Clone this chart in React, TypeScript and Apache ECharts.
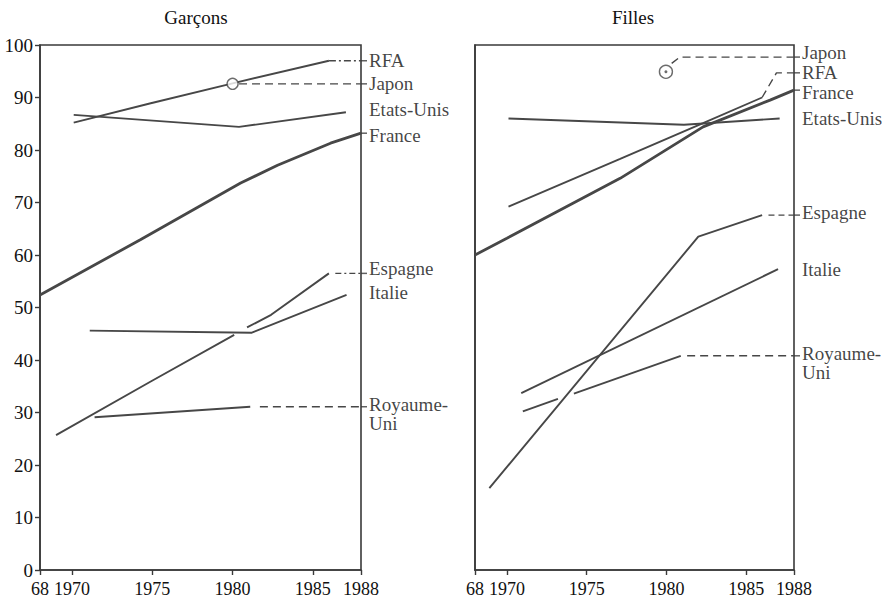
import React, { useEffect, useRef } from "react";
import * as echarts from "echarts";

// ---------- Data (years, percentage) ----------
const xTickYears = [1968, 1970, 1975, 1980, 1985, 1988];
const yTicks = [0, 10, 20, 30, 40, 50, 60, 70, 80, 90, 100];

// Garçons
const franceG = [[1968, 52.4], [1974.25, 62.9], [1980.5, 73.7], [1982.8, 77.1], [1986.1, 81.3], [1988, 83.2]];
const rfaG = [[1970.1, 85.2], [1974.9, 88.9], [1980, 92.7], [1986, 97.0]];
const rfaGExt = [[1986, 97.0], [1988, 97.0]];
const japonG = [[1980, 92.6]];
const japonGExt = [[1980.4, 92.6], [1988, 92.6]];
const usaG = [[1970.1, 86.7], [1980.4, 84.4], [1987.06, 87.2]];
const espagneGa = [[1969.0, 25.7], [1974.9, 35.9], [1980.1, 44.8]];
const espagneGb = [[1980.9, 46.2], [1982.4, 48.6], [1986.0, 56.5]];
const espagneGExt = [[1986.4, 56.5], [1988, 56.5]];
const italieG = [[1971.1, 45.6], [1981.2, 45.2], [1987.1, 52.4]];
const ukG = [[1971.4, 29.1], [1981.1, 31.1]];
const ukGExt = [[1981.7, 31.1], [1988, 31.1]];

// Filles
const franceF = [[1968, 60.0], [1970, 63.2], [1977.1, 74.6], [1982.3, 84.4], [1986.5, 89.5], [1988, 91.4]];
const rfaF = [[1970.1, 69.2], [1977.1, 78.3], [1982.3, 85.1], [1986, 90.0]];
const rfaFExt = [[1986, 90.0], [1986.9, 94.7], [1988, 94.7]];
const japonF = [[1979.97, 94.9]];
const japonFExt = [[1980.33, 96.5], [1980.85, 97.7], [1988, 97.7]];
const usaF = [[1970.1, 86.0], [1981.1, 84.8], [1987.1, 86.0]];
const espagneF = [[1968.9, 15.6], [1982.0, 63.5], [1986.0, 67.6]];
const espagneFExt = [[1986.4, 67.6], [1988, 67.6]];
const italieF = [[1970.9, 33.7], [1987.0, 57.3]];
const ukFa = [[1971.0, 30.2], [1973.2, 32.6]];
const ukFb = [[1974.2, 33.6], [1980.9, 40.8]];
const ukFExt = [[1981.3, 40.8], [1988, 40.8]];

// Right-hand labels (name, label level, level where the line meets the frame)
const labelNamesG = ["RFA", "Japon", "Etats-Unis", "France", "Espagne", "Italie", "Royaume-\nUni"];
const labelLevelsG = [97.1, 92.6, 87.8, 82.7, 57.5, 52.8, 29.8];
const labelTickG = [97.0, 92.6, null, 83.2, 56.5, null, 31.1];

const labelNamesF = ["Japon", "RFA", "France", "Etats-Unis", "Espagne", "Italie", "Royaume-\nUni"];
const labelLevelsF = [98.6, 94.8, 91.0, 86.0, 68.1, 57.3, 39.5];
const labelTickF = [97.7, 94.7, 91.4, null, 67.6, null, 40.8];

const panelTitles = ["Garçons", "Filles"];

// ---------- Styles ----------
const FONT = "Liberation Serif";
const LINE = "#474747";
const TEXT = "#111111";
const FRAME = "#3a3a3a";

function line(data: number[][], g: number, opts: any = {}) {
  return {
    type: "line",
    xAxisIndex: g,
    yAxisIndex: g,
    data,
    symbol: "none",
    silent: true,
    lineStyle: {
      color: LINE,
      width: opts.width ?? 1.9,
      type: opts.type ?? "solid",
    },
    z: opts.z ?? 3,
  };
}

function labelSeries(names: string[], levels: number[], ticks: (number | null)[], g: number) {
  return [
    {
      type: "scatter",
      xAxisIndex: g,
      yAxisIndex: g,
      silent: true,
      clip: false,
      symbolSize: 0,
      data: names.map((n, i) => ({ name: n, value: [1988, levels[i]] })),
      label: {
        show: true,
        position: "right",
        distance: 8,
        formatter: "{b}",
        fontFamily: FONT,
        fontSize: 19,
        lineHeight: 19,
        color: TEXT,
        align: "left",
      },
    },
    {
      type: "scatter",
      xAxisIndex: g,
      yAxisIndex: g,
      silent: true,
      clip: false,
      symbol: "rect",
      symbolSize: [6, 1.5],
      symbolOffset: [3, 0],
      itemStyle: { color: FRAME },
      data: ticks.filter((t) => t !== null).map((t) => [1988, t as number]),
    },
  ];
}

function xAxis(g: number) {
  return {
    type: "value",
    gridIndex: g,
    min: 1968,
    max: 1988,
    interval: 1,
    axisLine: { show: true, lineStyle: { color: FRAME, width: 1.6 } },
    axisTick: {
      show: true,
      customValues: xTickYears,
      length: 5,
      inside: false,
      lineStyle: { color: FRAME, width: 1.4 },
    },
    axisLabel: {
      customValues: xTickYears,
      formatter: (v: number) => (v === 1968 ? "68" : String(v)),
      fontFamily: FONT,
      fontSize: 18,
      color: TEXT,
      margin: 10,
    },
    splitLine: { show: false },
  };
}

function yAxis(g: number, showLabels: boolean) {
  return {
    type: "value",
    gridIndex: g,
    min: 0,
    max: 100,
    interval: 10,
    axisLine: { show: true, lineStyle: { color: FRAME, width: 1.6 } },
    axisTick: { show: showLabels, length: 5, lineStyle: { color: FRAME, width: 1.4 } },
    axisLabel: {
      show: showLabels,
      fontFamily: FONT,
      fontSize: 19,
      color: TEXT,
      margin: 7,
    },
    splitLine: { show: false },
  };
}

export default function App() {
  const ref = useRef<HTMLDivElement>(null);

  useEffect(() => {
    document.body.style.margin = "0";
    if (!ref.current) return;
    const chart = echarts.init(ref.current, undefined, { renderer: "svg" });

    const option: any = {
      animation: false,
      backgroundColor: "#ffffff",
      graphic: [
        {
          type: "text",
          x: 196,
          y: 17,
          style: { text: panelTitles[0], fontFamily: FONT, fontSize: 19, fill: TEXT, textAlign: "center", textVerticalAlign: "middle" },
        },
        {
          type: "text",
          x: 633,
          y: 17,
          style: { text: panelTitles[1], fontFamily: FONT, fontSize: 19, fill: TEXT, textAlign: "center", textVerticalAlign: "middle" },
        },
      ],
      grid: [
        { left: 40, top: 45, width: 321, height: 525, show: true, borderColor: FRAME, borderWidth: 1.6, backgroundColor: "transparent" },
        { left: 475, top: 45, width: 319, height: 525, show: true, borderColor: FRAME, borderWidth: 1.6, backgroundColor: "transparent" },
      ],
      xAxis: [xAxis(0), xAxis(1)],
      yAxis: [yAxis(0, true), yAxis(1, false)],
      series: [
        // Garçons
        line(franceG, 0, { width: 2.8, z: 4 }),
        line(rfaG, 0),
        line(rfaGExt, 0, { type: [7, 3, 2, 3], width: 1.4 }),
        line(japonGExt, 0, { type: [8, 5], width: 1.4 }),
        line(usaG, 0),
        line(espagneGa, 0),
        line(espagneGb, 0),
        line(espagneGExt, 0, { type: [6, 3, 2, 3], width: 1.4 }),
        line(italieG, 0),
        line(ukG, 0),
        line(ukGExt, 0, { type: [8, 5], width: 1.4 }),
        {
          type: "scatter",
          xAxisIndex: 0,
          yAxisIndex: 0,
          silent: true,
          symbol: "circle",
          symbolSize: 11,
          itemStyle: { color: "#ffffff", borderColor: LINE, borderWidth: 1.4 },
          data: japonG,
          z: 5,
        },
        ...labelSeries(labelNamesG, labelLevelsG, labelTickG, 0),

        // Filles
        line(franceF, 1, { width: 2.8, z: 4 }),
        line(rfaF, 1),
        line(rfaFExt, 1, { type: [8, 5], width: 1.4 }),
        line(japonFExt, 1, { type: [8, 5], width: 1.4 }),
        line(usaF, 1),
        line(espagneF, 1),
        line(espagneFExt, 1, { type: [6, 4], width: 1.4 }),
        line(italieF, 1),
        line(ukFa, 1),
        line(ukFb, 1),
        line(ukFExt, 1, { type: [8, 5], width: 1.4 }),
        {
          type: "scatter",
          xAxisIndex: 1,
          yAxisIndex: 1,
          silent: true,
          symbol: "circle",
          symbolSize: 13,
          itemStyle: { color: "#ffffff", borderColor: LINE, borderWidth: 1.4 },
          data: japonF,
          z: 5,
        },
        {
          type: "scatter",
          xAxisIndex: 1,
          yAxisIndex: 1,
          silent: true,
          symbol: "circle",
          symbolSize: 3,
          itemStyle: { color: LINE },
          data: japonF,
          z: 6,
        },
        ...labelSeries(labelNamesF, labelLevelsF, labelTickF, 1),
      ],
    };

    chart.setOption(option);
    return () => chart.dispose();
  }, []);

  return <div ref={ref} style={{ width: 893, height: 601, overflow: "hidden" }} />;
}
